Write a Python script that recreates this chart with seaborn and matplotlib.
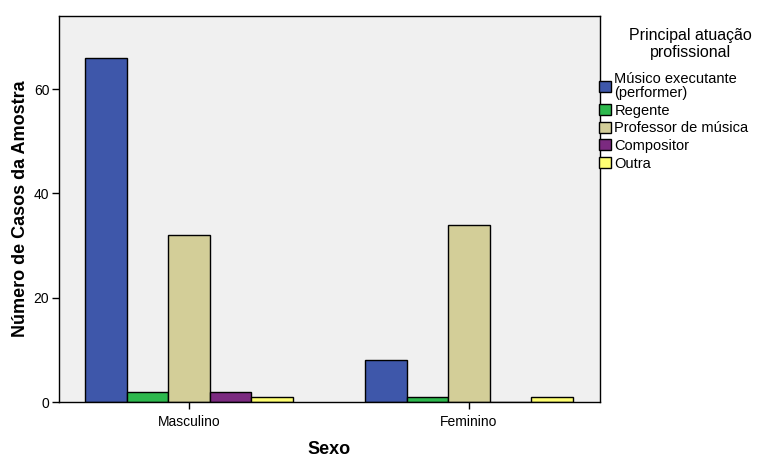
import matplotlib
matplotlib.use("Agg")
import matplotlib.pyplot as plt
import seaborn as sns
import pandas as pd

sexo = ["Masculino", "Feminino"]
atuacao = ["Músico executante\n(performer)", "Regente", "Professor de música", "Compositor", "Outra"]
masculino = [66, 2, 32, 2, 1]
feminino = [8, 1, 34, 0, 1]
cores = ["#3E57AA", "#2DB84D", "#D3CE98", "#7B2A80", "#FFFF73"]

rows = []
for s, vals in zip(sexo, [masculino, feminino]):
    for a, v in zip(atuacao, vals):
        rows.append({"Sexo": s, "Atuacao": a, "Casos": v})
df = pd.DataFrame(rows)

sns.set_style("white")
plt.rcParams["font.family"] = ["Liberation Sans", "DejaVu Sans"]
plt.rcParams["text.color"] = "black"
plt.rcParams["axes.labelcolor"] = "black"
plt.rcParams["xtick.color"] = "black"
plt.rcParams["ytick.color"] = "black"

fig = plt.figure(figsize=(7.63, 4.59), dpi=100)
ax = fig.add_axes([59/763, 1-402/459, (600-59)/763, (402-16)/459])
ax.set_facecolor("#F0F0F0")

sns.barplot(data=df, x="Sexo", y="Casos", hue="Atuacao", order=sexo, hue_order=atuacao,
            palette=cores, width=0.74, edgecolor="black", linewidth=1.0, saturation=1,
            errorbar=None, ax=ax)

ax.set_xlim(-0.464, 1.468)
ax.set_ylim(0, 74)
ax.set_yticks([0, 20, 40, 60])
ax.tick_params(axis="both", direction="out", length=5, width=1, color="black", labelcolor="black",
               labelsize=10, pad=2, left=True, bottom=True)
ax.tick_params(axis="x", pad=4)
for sp in ax.spines.values():
    sp.set_color("black")
    sp.set_linewidth(1.0)
ax.set_xlabel("Sexo", fontsize=13, fontweight="bold", labelpad=9, color="black")
ax.set_ylabel("Número de Casos da Amostra", fontsize=13, fontweight="bold", labelpad=3, color="black")

fig.text(690/763, 1-44/459, "Principal atuação\nprofissional", ha="center", va="center",
         fontsize=11.5, color="black", multialignment="center", linespacing=1.15)

leg = ax.legend(loc="upper left", bbox_to_anchor=(599/763, 1-72/459), bbox_transform=fig.transFigure,
                frameon=False, fontsize=10.5, handlelength=0.85, handleheight=0.8,
                handletextpad=0.2, labelspacing=0.25, borderaxespad=0, borderpad=0)
for t in leg.get_texts():
    t.set_color("black")
    t.set_linespacing(1.0)
for h in leg.legend_handles:
    h.set_edgecolor("black")
    h.set_linewidth(1.0)

fig.savefig("out.png", dpi=100)
